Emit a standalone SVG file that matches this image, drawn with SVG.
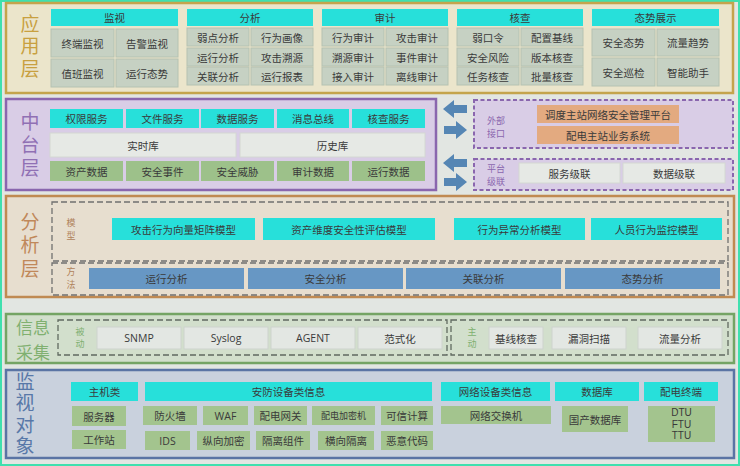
<svg xmlns="http://www.w3.org/2000/svg" width="740" height="466" viewBox="0 0 740 466">
<style>
text{font-family:"Noto Sans CJK SC","Noto Sans",sans-serif;font-size:10.5px;fill:#3a3a3a;text-anchor:middle;dominant-baseline:central}
.cy{fill:#27e0da}
.ai{fill:#c6d1c3;stroke:#b5c2b2;stroke-width:1}
.lt{fill:#e6e9e5;stroke:#d4d8d2;stroke-width:1}
.gr{fill:#9dc18a}
.or{fill:#e3aa80}
.bl{fill:#6797c4}
.ci{fill:#e3e7e3;stroke:#cdd3cd;stroke-width:1}
.mg{fill:#a3c48e}
.big{font-size:19px}
.sm{font-size:9px}
.v{writing-mode:vertical-rl}
.en{font-family:"Open Sans","Noto Sans",sans-serif}
.dashP{fill:#d9cde6;stroke:#8a66ae;stroke-width:2;stroke-dasharray:4 2.5}
.dashG{fill:none;stroke:#707070;stroke-width:1.3;stroke-dasharray:6 3}
.dashC{fill:none;stroke:#606a60;stroke-width:1.3;stroke-dasharray:6 3}
.arr{fill:#5586b4}
</style>
<rect x="0" y="0" width="740" height="466" fill="#e2e6e2"/>
<rect x="1" y="1" width="738" height="464" fill="none" stroke="#3fe0ae" stroke-width="2"/>

<!-- 应用层 -->
<g id="app-layer">
<rect x="6" y="3" width="727" height="90" fill="#ebe5cb" stroke="#c4a44c" stroke-width="2.5"/>
<text class="big v" x="30" y="48" style="fill:#c8a040;letter-spacing:3.5px">应用层</text>
</g>
<g id="app-jianshi">
<rect class="cy" x="51" y="9" width="127" height="17"/><text x="114.5" y="17.5">监视</text>
<rect class="ai" x="51" y="29" width="63" height="28"/><text x="82.5" y="43">终端监视</text>
<rect class="ai" x="116" y="29" width="62" height="28"/><text x="147" y="43">告警监视</text>
<rect class="ai" x="51" y="59" width="63" height="28"/><text x="82.5" y="73">值班监视</text>
<rect class="ai" x="116" y="59" width="62" height="28"/><text x="147" y="73">运行态势</text>
</g>
<g id="app-fenxi">
<rect class="cy" x="187" y="9" width="126" height="17"/><text x="250" y="17.5">分析</text>
<rect class="ai" x="187" y="28" width="62" height="18"/><text x="218" y="37">弱点分析</text>
<rect class="ai" x="251" y="28" width="62" height="18"/><text x="282" y="37">行为画像</text>
<rect class="ai" x="187" y="48" width="62" height="18"/><text x="218" y="57">运行分析</text>
<rect class="ai" x="251" y="48" width="62" height="18"/><text x="282" y="57">攻击溯源</text>
<rect class="ai" x="187" y="67" width="62" height="18"/><text x="218" y="76">关联分析</text>
<rect class="ai" x="251" y="67" width="62" height="18"/><text x="282" y="76">运行报表</text>
</g>
<g id="app-shenji">
<rect class="cy" x="322" y="9" width="126" height="17"/><text x="385" y="17.5">审计</text>
<rect class="ai" x="322" y="28" width="62" height="18"/><text x="353" y="37">行为审计</text>
<rect class="ai" x="386" y="28" width="62" height="18"/><text x="417" y="37">攻击审计</text>
<rect class="ai" x="322" y="48" width="62" height="18"/><text x="353" y="57">溯源审计</text>
<rect class="ai" x="386" y="48" width="62" height="18"/><text x="417" y="57">事件审计</text>
<rect class="ai" x="322" y="67" width="62" height="18"/><text x="353" y="76">接入审计</text>
<rect class="ai" x="386" y="67" width="62" height="18"/><text x="417" y="76">离线审计</text>
</g>
<g id="app-hecha">
<rect class="cy" x="457" y="9" width="126" height="17"/><text x="520" y="17.5">核查</text>
<rect class="ai" x="457" y="28" width="62" height="18"/><text x="488" y="37">弱口令</text>
<rect class="ai" x="521" y="28" width="62" height="18"/><text x="552" y="37">配置基线</text>
<rect class="ai" x="457" y="48" width="62" height="18"/><text x="488" y="57">安全风险</text>
<rect class="ai" x="521" y="48" width="62" height="18"/><text x="552" y="57">版本核查</text>
<rect class="ai" x="457" y="67" width="62" height="18"/><text x="488" y="76">任务核查</text>
<rect class="ai" x="521" y="67" width="62" height="18"/><text x="552" y="76">批量核查</text>
</g>
<g id="app-taishi">
<rect class="cy" x="592" y="9" width="127" height="17"/><text x="655.5" y="17.5">态势展示</text>
<rect class="ai" x="592" y="29" width="63" height="27"/><text x="623.5" y="42.5">安全态势</text>
<rect class="ai" x="657" y="29" width="62" height="27"/><text x="688" y="42.5">流量趋势</text>
<rect class="ai" x="592" y="58" width="63" height="28"/><text x="623.5" y="72">安全巡检</text>
<rect class="ai" x="657" y="58" width="62" height="28"/><text x="688" y="72">智能助手</text>
</g>

<!-- 中台层 -->
<g id="mid-layer">
<rect x="6" y="99" width="430" height="91" fill="#d9cde6" stroke="#8a66ae" stroke-width="2.5"/>
<text class="big v" x="30" y="147" style="fill:#9070b4;letter-spacing:4px">中台层</text>
</g>
<g id="mid-services">
<rect class="cy" x="50" y="109" width="73" height="19"/><text x="86.5" y="118.5">权限服务</text>
<rect class="cy" x="126" y="109" width="73" height="19"/><text x="162.5" y="118.5">文件服务</text>
<rect class="cy" x="201" y="109" width="73" height="19"/><text x="237.5" y="118.5">数据服务</text>
<rect class="cy" x="277" y="109" width="72" height="19"/><text x="313" y="118.5">消息总线</text>
<rect class="cy" x="352" y="109" width="73" height="19"/><text x="388.5" y="118.5">核查服务</text>
</g>
<g id="mid-db">
<rect class="lt" x="50" y="133" width="186" height="24"/><text x="143" y="145">实时库</text>
<rect class="lt" x="240" y="133" width="185" height="24"/><text x="332.5" y="145">历史库</text>
</g>
<g id="mid-data">
<rect class="gr" x="50" y="161" width="73" height="20"/><text x="86.5" y="171">资产数据</text>
<rect class="gr" x="126" y="161" width="73" height="20"/><text x="162.5" y="171">安全事件</text>
<rect class="gr" x="201" y="161" width="73" height="20"/><text x="237.5" y="171">安全威胁</text>
<rect class="gr" x="277" y="161" width="72" height="20"/><text x="313" y="171">审计数据</text>
<rect class="gr" x="352" y="161" width="73" height="20"/><text x="388.5" y="171">运行数据</text>
</g>

<!-- connectors -->
<g id="connectors">
<path class="arr" d="M443,109 L454,100 L454,105 L467,105 L467,113 L454,113 L454,118 Z"/>
<path class="arr" d="M467,130 L456,121 L456,126 L444,126 L444,134 L456,134 L456,139 Z"/>
<path class="arr" d="M443,163 L454,154 L454,159 L467,159 L467,167 L454,167 L454,172 Z"/>
<path class="arr" d="M467,182 L456,173 L456,178 L444,178 L444,186 L456,186 L456,191 Z"/>
</g>

<g id="ext-interface">
<rect class="dashP" x="474" y="100" width="259" height="48"/>
<text class="sm" x="496" y="120.5" style="fill:#8a66ae">外部</text>
<text class="sm" x="496" y="133.5" style="fill:#8a66ae">接口</text>
<rect class="or" x="537" y="105" width="142" height="18"/><text x="608" y="114">调度主站网络安全管理平台</text>
<rect class="or" x="537" y="126" width="142" height="18"/><text x="608" y="135">配电主站业务系统</text>
</g>
<g id="platform-cascade">
<rect class="dashP" x="474" y="159" width="259" height="31"/>
<text class="sm" x="496" y="168" style="fill:#8a66ae">平台</text>
<text class="sm" x="496" y="181" style="fill:#8a66ae">级联</text>
<rect class="lt" x="519" y="163" width="101" height="20"/><text x="569.5" y="173">服务级联</text>
<rect class="lt" x="623" y="163" width="102" height="20"/><text x="674" y="173">数据级联</text>
</g>

<!-- 分析层 -->
<g id="analysis-layer">
<rect x="6" y="196" width="728" height="101" fill="#e7decf" stroke="#c08a52" stroke-width="2.5"/>
<text class="big v" x="30" y="247.5" style="fill:#c0885a;letter-spacing:4.5px">分析层</text>
</g>
<g id="models">
<rect class="dashG" x="52" y="202" width="676" height="59"/>
<text class="sm v" x="71" y="231.5" style="fill:#b0825a;letter-spacing:4px">模型</text>
<rect class="cy" x="112" y="218" width="143" height="22"/><text x="183.5" y="229">攻击行为向量矩阵模型</text>
<rect class="cy" x="263" y="218" width="172" height="22"/><text x="349" y="229">资产维度安全性评估模型</text>
<rect class="cy" x="454" y="218" width="131" height="22"/><text x="519.5" y="229">行为异常分析模型</text>
<rect class="cy" x="591" y="218" width="131" height="22"/><text x="656.5" y="229">人员行为监控模型</text>
</g>
<g id="methods">
<rect class="dashG" x="52" y="263" width="676" height="32"/>
<text class="sm v" x="71" y="280.5" style="fill:#b0825a;letter-spacing:4px">方法</text>
<rect class="bl" x="89" y="268" width="155" height="21"/><text x="166.5" y="278.5">运行分析</text>
<rect class="bl" x="248" y="268" width="155" height="21"/><text x="325.5" y="278.5">安全分析</text>
<rect class="bl" x="406" y="268" width="155" height="21"/><text x="483.5" y="278.5">关联分析</text>
<rect class="bl" x="565" y="268" width="155" height="21"/><text x="642.5" y="278.5">态势分析</text>
</g>

<!-- 信息采集 -->
<g id="collect-layer">
<rect x="6" y="314" width="728" height="49" fill="#d2dfcc" stroke="#74a464" stroke-width="2.5"/>
<text class="big" x="33" y="326.5" style="fill:#80b070;font-size:17px">信息</text>
<text class="big" x="33" y="351.5" style="fill:#80b070;font-size:17px">采集</text>
</g>
<g id="passive">
<rect class="dashC" x="58" y="320" width="389" height="35"/>
<text class="sm v" x="80" y="339.5" style="fill:#80b070;letter-spacing:3px">被动</text>
<rect class="ci" x="97" y="327" width="84" height="22"/><text class="en" x="139" y="338">SNMP</text>
<rect class="ci" x="184" y="327" width="84" height="22"/><text class="en" x="226" y="338">Syslog</text>
<rect class="ci" x="271" y="327" width="84" height="22"/><text class="en" x="313" y="338">AGENT</text>
<rect class="ci" x="358" y="327" width="84" height="22"/><text x="400" y="338">范式化</text>
</g>
<g id="active">
<rect class="dashC" x="451" y="320" width="277" height="35"/>
<text class="sm v" x="472" y="339.5" style="fill:#80b070;letter-spacing:3px">主动</text>
<rect class="ci" x="489" y="327" width="54" height="22"/><text x="516" y="338">基线核查</text>
<rect class="ci" x="552" y="327" width="74" height="22"/><text x="589" y="338">漏洞扫描</text>
<rect class="ci" x="638" y="327" width="84" height="22"/><text x="680" y="338">流量分析</text>
</g>

<!-- 监视对象 -->
<g id="monitor-layer">
<rect x="6" y="370" width="728" height="88" fill="#c9d1dd" stroke="#5a74a4" stroke-width="2.5"/>
<text class="big v" x="25" y="415" style="fill:#5878a8;letter-spacing:2.3px">监视对象</text>
</g>
<g id="mon-host">
<rect class="cy" x="71" y="382" width="67" height="19"/><text x="104.5" y="391.5">主机类</text>
<rect class="mg" x="72" y="406" width="54" height="20"/><text x="99" y="416">服务器</text>
<rect class="mg" x="72" y="430" width="54" height="19"/><text x="99" y="439.5">工作站</text>
</g>
<g id="mon-security">
<rect class="cy" x="145" y="382" width="287" height="19"/><text x="288.5" y="391.5">安防设备类信息</text>
<rect class="mg" x="143" y="406" width="54" height="19"/><text x="170" y="415.5">防火墙</text>
<rect class="mg" x="203" y="406" width="45" height="19"/><text class="en" x="225.5" y="415.5">WAF</text>
<rect class="mg" x="254" y="406" width="53" height="19"/><text x="280.5" y="415.5">配电网关</text>
<rect class="mg" x="312" y="406" width="63" height="19"/><text x="343.5" y="415.5" style="font-size:9px">配电加密机</text>
<rect class="mg" x="381" y="406" width="52" height="19"/><text x="407" y="415.5">可信计算</text>
<rect class="mg" x="145" y="431" width="45" height="19"/><text class="en" x="167.5" y="440.5">IDS</text>
<rect class="mg" x="197" y="431" width="53" height="19"/><text x="223.5" y="440.5">纵向加密</text>
<rect class="mg" x="256" y="431" width="54" height="19"/><text x="283" y="440.5">隔离组件</text>
<rect class="mg" x="318" y="431" width="56" height="19"/><text x="346" y="440.5">横向隔离</text>
<rect class="mg" x="381" y="431" width="52" height="19"/><text x="407" y="440.5">恶意代码</text>
</g>
<g id="mon-network">
<rect class="cy" x="441" y="382" width="109" height="19"/><text x="495.5" y="391.5">网络设备类信息</text>
<rect class="mg" x="441" y="406" width="110" height="18"/><text x="496" y="415">网络交换机</text>
</g>
<g id="mon-database">
<rect class="cy" x="555" y="382" width="84" height="19"/><text x="597" y="391.5">数据库</text>
<rect class="mg" x="562" y="406" width="66" height="26"/><text x="595" y="419">国产数据库</text>
</g>
<g id="mon-terminal">
<rect class="cy" x="644" y="382" width="74" height="19"/><text x="681" y="391.5">配电终端</text>
<rect class="mg" x="648" y="406" width="67" height="36"/>
<text x="681.5" y="412.5" style="font-family:'Liberation Sans',sans-serif;font-size:10px">DTU</text>
<text x="681.5" y="424" style="font-family:'Liberation Sans',sans-serif;font-size:10px">FTU</text>
<text x="681.5" y="435.5" style="font-family:'Liberation Sans',sans-serif;font-size:10px">TTU</text>
</g>
</svg>
